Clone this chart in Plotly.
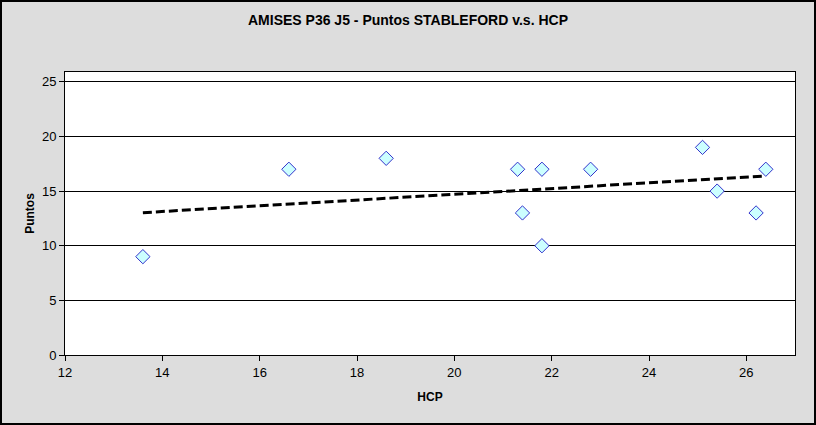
import numpy as np
import plotly.graph_objects as go

hcp = [13.6, 16.6, 18.6, 21.3, 21.4, 21.8, 21.8, 22.8, 25.1, 25.4, 26.2, 26.4]
puntos = [9, 17, 18, 17, 13, 17, 10, 17, 19, 15, 13, 17]

title = "AMISES P36 J5 - Puntos STABLEFORD v.s. HCP"
x_title = "HCP"
y_title = "Puntos"

W, H = 816, 425
ml, mr, mt, mb = 65, 21, 72, 70
pw, ph = W - ml - mr, H - mt - mb

slope, intercept = np.polyfit(hcp, puntos, 1)
tx = [min(hcp), max(hcp)]
ty = [slope * v + intercept for v in tx]

fig = go.Figure()
fig.add_trace(go.Scatter(x=tx, y=ty, mode="lines",
                         line=dict(color="black", width=3, dash="9px,4px"),
                         hoverinfo="skip", showlegend=False))
fig.add_trace(go.Scatter(x=hcp, y=puntos, mode="markers",
                         marker=dict(symbol="diamond", size=11, color="#CCFFFF",
                                     line=dict(color="#3333CC", width=1)),
                         showlegend=False))

fig.update_layout(
    width=W, height=H,
    margin=dict(l=ml, r=mr, t=mt, b=mb),
    paper_bgcolor="#DDDDDD", plot_bgcolor="white",
    font=dict(family="Liberation Sans, Arial, sans-serif", size=12, color="black"),
    title=dict(text="<b>" + title + "</b>", x=0.5, xanchor="center",
               y=1 - 20 / H, yanchor="middle", font=dict(size=14)),
    xaxis=dict(range=[12, 27], dtick=2, tick0=12, showgrid=False, zeroline=False,
               showline=True, linecolor="black", linewidth=1, mirror=True,
               ticks="outside", ticklen=5, tickcolor="black", tickfont=dict(size=13),
               title=dict(text="<b>" + x_title + "</b>", standoff=14, font=dict(size=12))),
    yaxis=dict(range=[0, 25.9], dtick=5, tick0=0, showgrid=True, gridcolor="black",
               gridwidth=1, zeroline=False,
               showline=True, linecolor="black", linewidth=1, mirror=True,
               ticks="outside", ticklen=5, tickcolor="black", tickfont=dict(size=13),
               title=dict(text="<b>" + y_title + "</b>", standoff=4, font=dict(size=12))),
    shapes=[dict(type="rect", xref="paper", yref="paper",
                 x0=(-ml + 1) / pw, x1=(W - ml - 1) / pw,
                 y0=(-mb + 1) / ph, y1=(H - mb - 1) / ph,
                 line=dict(color="black", width=2), layer="above")],
)

fig.write_html("out.html", config={"displayModeBar": False},
               post_script="document.body.style.margin='0';document.body.style.overflow='hidden';")
